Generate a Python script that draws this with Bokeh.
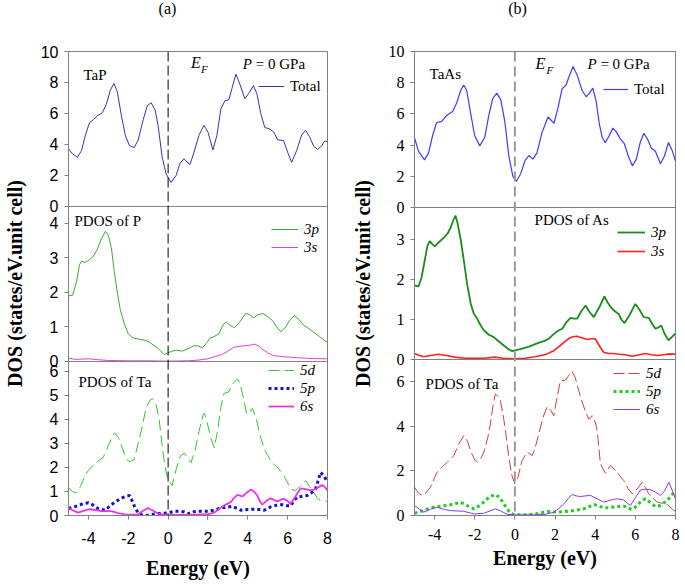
from bokeh.plotting import figure
from bokeh.models import Range1d, FixedTicker, Span, Label, Legend, LegendItem
from bokeh.layouts import row, column
from bokeh.embed import file_html
from bokeh.resources import INLINE

# ---------------- data ----------------
# (a) TaP total DOS
tap_total_E = [-5.0, -4.8, -4.55, -4.35, -4.15, -3.95, -3.75, -3.55, -3.3, -3.1, -2.9, -2.72, -2.55, -2.35, -2.15,
               -1.95, -1.7, -1.5, -1.25, -1.05, -0.85, -0.65, -0.5, -0.3, -0.1, 0.15, 0.4, 0.6, 0.8, 1.0, 1.1, 1.3,
               1.55, 1.8, 2.0, 2.25, 2.45, 2.65, 2.85, 3.05, 3.2, 3.4, 3.6, 3.85, 4.05, 4.28, 4.45, 4.65, 4.85, 5.1,
               5.3, 5.5, 5.8, 6.0, 6.2, 6.45, 6.7, 6.9, 7.1, 7.3, 7.5, 7.7, 7.85, 8.0]
tap_total = [3.72, 3.4, 3.18, 3.6, 4.6, 5.4, 5.6, 5.85, 6.05, 6.6, 7.5, 7.94, 7.4, 5.9, 4.6,
             3.95, 3.8, 4.3, 5.6, 6.5, 6.7, 6.2, 5.2, 3.2, 2.1, 1.55, 2.0, 2.8, 3.08, 2.8, 2.72, 3.5,
             4.6, 5.24, 4.8, 3.65, 4.6, 6.3, 6.82, 6.88, 7.6, 8.54, 7.9, 6.95, 7.3, 7.8, 7.3, 6.0, 5.1, 5.0,
             4.8, 4.3, 4.25, 3.5, 2.85, 3.6, 4.6, 4.92, 4.5, 3.9, 3.68, 3.9, 4.22, 4.2]

# (a) PDOS of P
p3p_E = [-5.0, -4.8, -4.6, -4.45, -4.35, -4.15, -3.95, -3.75, -3.55, -3.35, -3.15, -3.0, -2.85, -2.7, -2.55, -2.4,
         -2.2, -2.0, -1.75, -1.5, -1.2, -1.0, -0.75, -0.5, -0.2, 0.0, 0.15, 0.4, 0.7, 1.0, 1.3, 1.5, 1.73, 1.95,
         2.1, 2.3, 2.55, 2.75, 2.9, 3.1, 3.33, 3.6, 3.9, 4.1, 4.3, 4.5, 4.75, 5.0, 5.25, 5.5, 5.67, 5.9, 6.1,
         6.33, 6.6, 6.8, 7.0, 7.33, 7.6, 8.0]
p3p = [1.9, 1.92, 2.3, 2.8, 2.9, 2.87, 2.95, 3.05, 3.25, 3.55, 3.77, 3.65, 3.3, 2.6, 2.0, 1.5,
       1.1, 0.8, 0.68, 0.65, 0.62, 0.58, 0.48, 0.38, 0.2, 0.25, 0.29, 0.33, 0.3, 0.37, 0.46, 0.45, 0.4, 0.55,
       0.68, 0.72, 0.8, 1.05, 1.15, 1.05, 0.98, 1.15, 1.4, 1.35, 1.27, 1.35, 1.39, 1.3, 1.18, 0.95, 0.86, 1.0, 1.2,
       1.33, 1.2, 1.05, 0.98, 0.84, 0.72, 0.55]
p3s_E = [-5.0, -4.7, -4.3, -4.0, -3.5, -3.0, -2.0, -1.0, 0.0, 1.0, 1.5, 2.0, 2.4, 2.7, 3.0, 3.3, 3.6, 3.85, 4.1,
         4.33, 4.55, 4.75, 5.0, 5.3, 5.6, 6.0, 6.5, 7.0, 7.5, 8.0]
p3s = [0.1, 0.06, 0.07, 0.08, 0.05, 0.03, 0.02, 0.02, 0.01, 0.02, 0.04, 0.08, 0.15, 0.2, 0.3, 0.41, 0.44, 0.46, 0.47,
       0.5, 0.45, 0.35, 0.25, 0.17, 0.15, 0.13, 0.11, 0.09, 0.08, 0.08]

# (a) PDOS of Ta (in TaP)
ta5d_a_E = [-5.0, -4.8, -4.6, -4.4, -4.2, -4.0, -3.75, -3.5, -3.27, -3.0, -2.8, -2.68, -2.5, -2.3, -2.1, -1.93,
            -1.7, -1.5, -1.3, -1.1, -0.9, -0.77, -0.6, -0.45, -0.3, -0.15, 0.0, 0.2, 0.4, 0.6, 0.82, 1.0, 1.15,
            1.35, 1.55, 1.75, 1.82, 1.95, 2.15, 2.32, 2.5, 2.65, 2.8, 3.05, 3.25, 3.48, 3.6, 3.75, 3.95, 4.1, 4.23,
            4.4, 4.6, 4.82, 5.0, 5.15, 5.35, 5.57, 5.8, 6.0, 6.2, 6.4, 6.6, 6.9, 7.1, 7.32, 7.5, 7.65, 8.0]
ta5d_a = [1.17, 1.0, 0.93, 1.2, 1.6, 1.88, 2.1, 2.28, 2.4, 2.9, 3.3, 3.43, 3.25, 2.8, 2.35, 2.23,
          2.33, 3.0, 3.7, 4.5, 4.8, 4.86, 4.6, 4.0, 2.9, 2.0, 1.45, 1.25, 1.9, 2.45, 2.6, 2.35, 2.2,
          2.7, 3.5, 4.15, 4.25, 3.9, 3.2, 2.81, 3.6, 4.5, 5.07, 5.14, 5.48, 5.68, 5.5, 5.0, 4.2, 4.3, 4.45,
          4.1, 3.4, 2.75, 2.5, 2.27, 2.1, 1.93, 1.68, 1.35, 1.08, 1.04, 1.2, 1.45, 1.2, 0.95, 0.7, 0.63, 0.59]
ta5p_a_E = [-5.0, -4.75, -4.5, -4.25, -4.0, -3.8, -3.52, -3.18, -2.9, -2.68, -2.35, -2.1, -1.93, -1.8, -1.68, -1.5,
            -1.3, -1.0, -0.75, -0.5, 0.0, 0.32, 0.6, 0.82, 1.0, 1.25, 1.5, 2.0, 2.32, 2.6, 2.82, 3.23, 3.45, 3.65,
            4.0, 4.32, 4.6, 4.82, 5.0, 5.15, 5.45, 5.73, 6.0, 6.15, 6.3, 6.48, 6.75, 6.98, 7.2, 7.4, 7.55, 7.65,
            7.82, 8.0]
ta5p_a = [0.29, 0.35, 0.42, 0.5, 0.53, 0.45, 0.29, 0.22, 0.4, 0.56, 0.72, 0.8, 0.83, 0.6, 0.36, 0.1,
          0.02, 0.01, 0.05, 0.08, 0.11, 0.18, 0.17, 0.15, 0.08, 0.15, 0.18, 0.18, 0.22, 0.3, 0.33, 0.38, 0.3, 0.22,
          0.25, 0.26, 0.25, 0.22, 0.28, 0.36, 0.43, 0.45, 0.4, 0.4, 0.6, 0.77, 0.8, 0.83, 0.95, 1.1, 1.5, 1.79,
          1.65, 1.38]
ta6s_a_E = [-5.0, -4.75, -4.52, -4.2, -3.93, -3.6, -3.35, -2.85, -2.5, -2.18, -1.8, -1.52, -1.25, -1.02, -0.75,
            -0.52, -0.2, 0.5, 1.0, 1.5, 2.0, 2.32, 2.6, 2.82, 3.15, 3.3, 3.48, 3.73, 3.95, 4.15, 4.3, 4.48, 4.6,
            4.73, 4.95, 5.15, 5.3, 5.48, 5.65, 5.82, 6.0, 6.15, 6.4, 6.65, 6.9, 7.15, 7.4, 7.6, 7.73, 7.85, 8.0]
ta6s_a = [0.31, 0.2, 0.12, 0.2, 0.26, 0.22, 0.18, 0.18, 0.1, 0.05, 0.04, 0.04, 0.2, 0.31, 0.2,
          0.08, 0.04, 0.02, 0.02, 0.04, 0.06, 0.12, 0.3, 0.42, 0.56, 0.72, 0.86, 0.79, 0.95, 1.08, 1.0, 0.83, 0.6,
          0.45, 0.62, 0.72, 0.65, 0.59, 0.65, 0.7, 0.6, 0.49, 0.8, 1.13, 1.1, 1.04, 1.1, 1.2, 1.27, 1.2, 1.04]

# (b) TaAs total DOS
taas_total_E = [-5.0, -4.8, -4.5, -4.3, -4.1, -3.9, -3.65, -3.4, -3.1, -2.9, -2.7, -2.55, -2.4, -2.2, -2.0, -1.75,
                -1.5, -1.3, -1.1, -0.9, -0.7, -0.5, -0.3, -0.1, 0.08, 0.3, 0.5, 0.7, 0.9, 1.1, 1.35, 1.65, 1.95,
                2.15, 2.35, 2.55, 2.7, 2.9, 3.1, 3.35, 3.55, 3.7, 3.88, 4.05, 4.2, 4.35, 4.5, 4.7, 4.88, 5.05,
                5.25, 5.45, 5.65, 5.85, 6.05, 6.25, 6.42, 6.6, 6.8, 7.0, 7.25, 7.45, 7.65, 7.85, 8.0]
taas_total = [4.47, 3.6, 3.05, 3.5, 4.6, 5.45, 5.5, 5.9, 6.15, 6.7, 7.5, 7.85, 7.5, 6.0, 4.6, 3.95,
              4.5, 5.9, 7.0, 7.33, 6.9, 5.5, 3.3, 2.0, 1.68, 2.2, 3.0, 3.33, 3.1, 3.5, 4.8, 5.8, 5.4,
              6.4, 7.6, 7.85, 8.4, 9.04, 8.5, 7.5, 7.1, 7.3, 7.65, 6.8, 5.4, 4.5, 4.15, 4.6, 5.09, 4.85,
              4.4, 4.1, 3.3, 2.67, 3.1, 4.2, 4.76, 4.4, 3.8, 3.6, 2.8, 3.3, 4.17, 3.6, 2.97]

# (b) PDOS of As
as3p_E = [-5.0, -4.8, -4.65, -4.5, -4.35, -4.24, -4.1, -3.99, -3.75, -3.55, -3.35, -3.2, -3.05, -2.96, -2.85, -2.7,
          -2.55, -2.38, -2.2, -2.05, -1.88, -1.7, -1.55, -1.3, -1.05, -0.8, -0.55, -0.3, -0.13, 0.1, 0.37, 0.7,
          0.95, 1.2, 1.44, 1.7, 1.94, 2.15, 2.36, 2.55, 2.77, 2.95, 3.1, 3.3, 3.52, 3.7, 3.93, 4.2, 4.46, 4.65,
          4.84, 5.0, 5.17, 5.3, 5.46, 5.7, 6.0, 6.2, 6.42, 6.67, 6.85, 7.0, 7.15, 7.29, 7.45, 7.65, 7.85, 8.0]
as3p = [1.85, 1.83, 2.05, 2.45, 2.85, 2.96, 2.88, 2.83, 2.95, 3.04, 3.15, 3.3, 3.5, 3.6, 3.4, 3.0,
        2.5, 1.89, 1.4, 1.15, 1.02, 0.85, 0.73, 0.62, 0.56, 0.45, 0.35, 0.25, 0.21, 0.24, 0.27, 0.32,
        0.37, 0.42, 0.46, 0.52, 0.64, 0.72, 0.77, 0.92, 1.04, 1.02, 1.02, 1.2, 1.35, 1.2, 1.06, 1.3, 1.58, 1.4,
        1.27, 1.2, 1.14, 1.0, 0.91, 1.1, 1.39, 1.25, 1.06, 1.04, 0.88, 0.77, 0.8, 0.85, 0.65, 0.48, 0.58, 0.65]
as3s_E = [-5.0, -4.75, -4.54, -4.2, -3.8, -3.4, -3.0, -2.5, -2.0, -1.5, -1.0, -0.6, 0.0, 0.5, 1.0, 1.3, 1.6, 1.94,
          2.2, 2.44, 2.7, 2.9, 3.1, 3.35, 3.6, 3.8, 4.0, 4.2, 4.42, 4.65, 4.9, 5.2, 5.5, 5.85, 6.2, 6.5, 6.8, 7.1,
          7.4, 7.75, 8.0]
as3s = [0.15, 0.1, 0.07, 0.1, 0.13, 0.1, 0.06, 0.03, 0.03, 0.03, 0.06, 0.03, 0.02, 0.03, 0.07, 0.1, 0.14, 0.22,
        0.32, 0.43, 0.53, 0.57, 0.58, 0.54, 0.5, 0.52, 0.52, 0.35, 0.18, 0.15, 0.15, 0.13, 0.12, 0.08, 0.12, 0.15,
        0.12, 0.1, 0.12, 0.14, 0.13]

# (b) PDOS of Ta (in TaAs)
ta5d_b_E = [-5.0, -4.8, -4.62, -4.4, -4.2, -4.0, -3.87, -3.6, -3.37, -3.04, -2.8, -2.54, -2.35, -2.21, -2.0, -1.88,
            -1.7, -1.55, -1.35, -1.22, -1.08, -0.97, -0.8, -0.72, -0.55, -0.47, -0.3, -0.15, 0.0, 0.15, 0.36,
            0.61, 0.86, 1.0, 1.19, 1.4, 1.61, 1.8, 1.94, 2.1, 2.27, 2.52, 2.7, 2.85, 3.0, 3.27, 3.5, 3.68, 3.85,
            4.0, 4.1, 4.26, 4.51, 4.76, 5.09, 5.42, 5.65, 5.84, 6.1, 6.34, 6.5, 6.67, 6.9, 7.09, 7.35, 7.59,
            7.92, 8.0]
ta5d_b = [1.27, 1.0, 0.9, 1.05, 1.27, 1.7, 1.94, 2.2, 2.39, 2.69, 3.2, 3.59, 3.3, 2.91, 2.5, 2.42,
          2.55, 2.84, 3.5, 4.11, 5.0, 5.46, 5.3, 5.16, 4.3, 3.81, 2.6, 1.8, 1.42, 1.7, 2.47,
          2.84, 2.69, 3.0, 3.66, 4.4, 4.89, 4.7, 4.48, 5.3, 6.05, 6.08, 6.3, 6.47, 6.2, 5.31, 4.7, 4.33, 4.48,
          4.2, 3.81, 2.32, 1.9, 2.24, 1.94, 1.57, 1.2, 0.97, 1.2, 1.49, 1.25, 0.97, 0.75, 0.6, 0.55, 0.49,
          0.22, 0.2]
ta5p_b_E = [-5.0, -4.7, -4.4, -4.04, -3.7, -3.37, -3.0, -2.71, -2.4, -2.04, -1.8, -1.55, -1.25, -0.97, -0.75, -0.55,
            -0.35, -0.22, 0.0, 0.5, 1.0, 1.3, 1.61, 2.11, 2.5, 2.94, 3.44, 3.7, 3.94, 4.2, 4.44, 4.8, 5.09, 5.42,
            5.6, 5.84, 6.1, 6.3, 6.5, 6.75, 7.0, 7.25, 7.5, 7.75, 8.0]
ta5p_b = [0.1, 0.18, 0.28, 0.37, 0.42, 0.45, 0.52, 0.6, 0.45, 0.3, 0.42, 0.6, 0.85, 0.94, 0.8, 0.52,
          0.25, 0.1, 0.04, 0.03, 0.06, 0.12, 0.18, 0.15, 0.18, 0.22, 0.3, 0.4, 0.49, 0.42, 0.33, 0.37, 0.4, 0.42,
          0.35, 0.27, 0.45, 0.65, 0.75, 0.58, 0.4, 0.45, 0.62, 0.82, 1.15]
ta6s_b_E = [-5.0, -4.75, -4.54, -4.2, -3.87, -3.5, -3.2, -2.54, -2.04, -1.55, -1.25, -0.97, -0.7, -0.38, 0.0, 1.0,
            1.5, 1.94, 2.2, 2.44, 2.65, 2.85, 3.05, 3.27, 3.5, 3.77, 4.1, 4.44, 4.8, 5.09, 5.42, 5.6, 5.76, 6.0,
            6.26, 6.5, 6.76, 7.0, 7.25, 7.45, 7.67, 7.85, 8.0]
ta6s_b = [0.45, 0.28, 0.15, 0.28, 0.37, 0.27, 0.22, 0.19, 0.07, 0.1, 0.2, 0.3, 0.2, 0.05, 0.03, 0.03,
          0.05, 0.15, 0.32, 0.52, 0.75, 0.94, 0.88, 0.85, 0.88, 0.9, 0.75, 0.6, 0.7, 0.75, 0.7, 0.55, 0.45, 0.8,
          1.15, 1.18, 1.15, 1.05, 0.9, 1.1, 1.49, 1.1, 0.75]

# tick values of each panel
x_ticks = [-4, -2, 0, 2, 4, 6, 8]
x_tick_labels = ["-4", "-2", "0", "2", "4", "6", "8"]
a_yticks = [[0, 2, 4, 6, 8, 10], [0, 1, 2, 3, 4], [0, 1, 2, 3, 4, 5, 6]]
b_yticks = [[0, 2, 4, 6, 8, 10], [0, 1, 2, 3], [0, 2, 4, 6]]
a_ymax = [10, 4.49, 6.4]
b_ymax = [10, 3.8, 7.0]
ylab_text = "DOS (states/eV.unit cell)"
xlab_text = "Energy (eV)"

# ---------------- styling helpers ----------------
SERIF = "Liberation Serif"
SANS = "Liberation Sans"
GRAY = "#808080"
PAGE_W, PAGE_H = 685, 584
TITLE_H = 18
ROW_H = PAGE_H - TITLE_H


def band_range(bands, idx, vmax):
    """bands: pixel heights top->bottom; a y range in which 0..vmax fills band idx."""
    H = sum(bands)
    b1 = H - sum(bands[:idx])
    b0 = b1 - bands[idx]
    s = (b1 - b0) / vmax
    return Range1d(-b0 / s, vmax + (H - b1) / s)


def stacked_fig(width, left, right, top, bands, ymaxes, yticks, ytick_font, xtick_font, tick_sd, label_sd,
                ylabel_sd):
    H = sum(bands)
    p = figure(width=width, height=ROW_H, x_range=Range1d(-5, 8), y_range=band_range(bands, 0, ymaxes[0]),
               output_backend="svg", toolbar_location=None,
               min_border_left=left, min_border_right=right, min_border_top=top,
               min_border_bottom=ROW_H - top - H)
    p.extra_y_ranges = {"mid": band_range(bands, 1, ymaxes[1]), "bot": band_range(bands, 2, ymaxes[2])}
    p.grid.visible = False
    p.outline_line_color = GRAY
    p.background_fill_color = "white"
    p.border_fill_color = "white"

    # one left axis carrying the ticks of all three stacked panels
    r0 = p.y_range
    ranges = [r0, p.extra_y_ranges["mid"], p.extra_y_ranges["bot"]]
    ticks, overrides = [], {}
    for rg, tks in zip(ranges, yticks):
        for t in tks:
            u = r0.start + (t - rg.start) / (rg.end - rg.start) * (r0.end - r0.start)
            ticks.append(u)
            overrides[u] = str(t)
    ya = p.yaxis[0]
    ya.ticker = FixedTicker(ticks=ticks)
    ya.major_label_overrides = overrides
    ya.minor_tick_line_color = None
    ya.major_tick_in = 0
    ya.major_tick_out = 4
    ya.axis_line_color = GRAY
    ya.major_tick_line_color = GRAY
    ya.major_label_text_font = ytick_font
    ya.major_label_text_font_size = "16px"
    ya.major_label_text_color = "black"
    ya.major_label_standoff = 6
    ya.axis_label = ylab_text
    ya.axis_label_text_font = SERIF
    ya.axis_label_text_font_style = "bold"
    ya.axis_label_text_font_size = "20px"
    ya.axis_label_text_color = "black"
    ya.axis_label_standoff = ylabel_sd

    for name in ["default", "mid"]:
        p.add_layout(Span(location=0, dimension="width", y_range_name=name, line_color=GRAY, line_width=1))

    xa = p.xaxis[0]
    xa.ticker = FixedTicker(ticks=x_ticks)
    xa.major_label_overrides = {t: s for t, s in zip(x_ticks, x_tick_labels)}
    xa.minor_tick_line_color = None
    xa.major_tick_in = 0
    xa.major_tick_out = 4
    xa.axis_line_color = GRAY
    xa.major_tick_line_color = GRAY
    xa.major_label_text_font = xtick_font
    xa.major_label_text_font_size = "16px"
    xa.major_label_text_color = "black"
    xa.major_label_standoff = tick_sd
    xa.axis_label = xlab_text
    xa.axis_label_text_font = SERIF
    xa.axis_label_text_font_style = "bold"
    xa.axis_label_text_font_size = "20px"
    xa.axis_label_text_color = "black"
    xa.axis_label_standoff = label_sd
    return p


def text(p, x, y, s, rng="default", size="15px", style="normal"):
    p.add_layout(Label(x=x, y=y, y_range_name=rng, text=s, text_font=SERIF, text_font_size=size,
                       text_font_style=style, text_color="black", text_baseline="middle", text_align="left"))


def legend(p, items, frame_left, frame_bottom, glyph_x, first_row_y, glyph_w, extra, italic=False, pitch=17):
    n = len(items)
    rowh = 16
    bottom_edge = first_row_y + (n - 1) * pitch + rowh / 2 + extra
    lg = Legend(items=[LegendItem(label=lab, renderers=[r]) for lab, r in items],
                location=(glyph_x - frame_left, frame_bottom - bottom_edge),
                glyph_width=glyph_w, glyph_height=rowh, label_height=rowh, label_standoff=6,
                spacing=pitch - rowh, padding=0, margin=0, border_line_color=None, background_fill_alpha=0,
                label_text_font=SERIF, label_text_font_size="15px", label_text_color="black",
                label_text_line_height=1.0,
                label_text_font_style="italic" if italic else "normal")
    p.add_layout(lg)


# ---------------- column (a): TaP ----------------
FIG_A_W = 348
FIG_B_W = PAGE_W - FIG_A_W
A_LEFT, A_RIGHT, A_TOP, A_BOTTOM = 67, 327, 47, 517   # frame edges in page pixels
fa = stacked_fig(FIG_A_W, A_LEFT, FIG_A_W - A_RIGHT, A_TOP - TITLE_H,
                 [157, 157, 156], a_ymax, a_yticks, SANS, SANS, 12, 10, 12)
EA = 1.5
r = fa.line(tap_total_E, tap_total, line_color="#3434b4", line_width=1)
legend(fa, [("Total", r)], A_LEFT, A_BOTTOM, 257, 87, 26, EA)
text(fa, -4.25, 8.47, "TaP")
text(fa, 1.15, 9.3, "E", size="16px", style="italic")
text(fa, 1.65, 8.88, "F", size="11px", style="italic")
text(fa, 3.75, 9.2, "P", style="italic")
text(fa, 4.4, 9.2, "= 0 GPa")

r1 = fa.line(p3p_E, p3p, y_range_name="mid", line_color="#3aaa35", line_width=1)
r2 = fa.line(p3s_E, p3s, y_range_name="mid", line_color="#e23de2", line_width=1)
legend(fa, [("3p", r1), ("3s", r2)], A_LEFT, A_BOTTOM, 270, 231, 27, EA, italic=True)
text(fa, -4.7, 4.06, "PDOS of P", rng="mid")

r1 = fa.line(ta5d_a_E, ta5d_a, y_range_name="bot", line_color="#33c433", line_width=1, line_dash="11 5")
r2 = fa.line(ta5p_a_E, ta5p_a, y_range_name="bot", line_color="#1010d8", line_width=3, line_dash="3 3")
r3 = fa.line(ta6s_a_E, ta6s_a, y_range_name="bot", line_color="#f030f0", line_width=1.8)
legend(fa, [("5d", r1), ("5p", r2), ("6s", r3)], A_LEFT, A_BOTTOM, 267, 373, 26, EA, italic=True)
text(fa, -4.5, 5.53, "PDOS of Ta", rng="bot")
fa.add_layout(Span(location=0, dimension="height", line_color="#000000", line_width=1, line_dash="10 4"))

# ---------------- column (b): TaAs ----------------
B_LEFT, B_RIGHT, B_TOP, B_BOTTOM = 414, 675, 51, 515
fb = stacked_fig(FIG_B_W, B_LEFT - FIG_A_W, PAGE_W - B_RIGHT, B_TOP - TITLE_H,
                 [156, 152, 156], b_ymax, b_yticks, SERIF, SERIF, 9, 4, 12)
EB = 1.5
r = fb.line(taas_total_E, taas_total, line_color="#3c3cff", line_width=1.2)
legend(fb, [("Total", r)], B_LEFT, B_BOTTOM, 603, 88, 25, EB)
text(fb, -4.25, 8.53, "TaAs")
text(fb, 1.03, 9.23, "E", size="16px", style="italic")
text(fb, 1.57, 8.8, "F", size="11px", style="italic")
text(fb, 3.62, 9.17, "P", style="italic")
text(fb, 4.26, 9.17, "= 0 GPa")

r1 = fb.line(as3p_E, as3p, y_range_name="mid", line_color="#1c8c1c", line_width=1.8)
r2 = fb.line(as3s_E, as3s, y_range_name="mid", line_color="#ff2020", line_width=1.6)
legend(fb, [("3p", r1), ("3s", r2)], B_LEFT, B_BOTTOM, 617, 232, 28, EB, italic=True, pitch=18)
text(fb, 0.98, 3.48, "PDOS of As", rng="mid")

r1 = fb.line(ta5d_b_E, ta5d_b, y_range_name="bot", line_color="#cc4040", line_width=1, line_dash="11 4")
r2 = fb.line(ta5p_b_E, ta5p_b, y_range_name="bot", line_color="#22cc22", line_width=3, line_dash="3 3")
r3 = fb.line(ta6s_b_E, ta6s_b, y_range_name="bot", line_color="#8a3ae6", line_width=1)
legend(fb, [("5d", r1), ("5p", r2), ("6s", r3)], B_LEFT, B_BOTTOM, 613, 374, 27, EB, italic=True)
text(fb, -4.45, 5.92, "PDOS of Ta", rng="bot")
fb.add_layout(Span(location=0, dimension="height", line_color="#999999", line_width=2, line_dash="10 5"))

# ---------------- panel captions strip ----------------
title_strip = figure(width=PAGE_W, height=TITLE_H, x_range=Range1d(0, PAGE_W), y_range=Range1d(0, TITLE_H),
                     output_backend="svg", toolbar_location=None, x_axis_location=None, y_axis_location=None,
                     min_border=0)
title_strip.grid.visible = False
title_strip.outline_line_color = None
for tx, tt in [(167, "(a)"), (517, "(b)")]:
    title_strip.add_layout(Label(x=tx, y=TITLE_H - 8, text=tt, text_font=SERIF, text_font_size="16px",
                                 text_align="center", text_baseline="middle", text_color="black"))

layout = column(title_strip, row(fa, fb))
open("out.html", "w").write(file_html(layout, INLINE))
